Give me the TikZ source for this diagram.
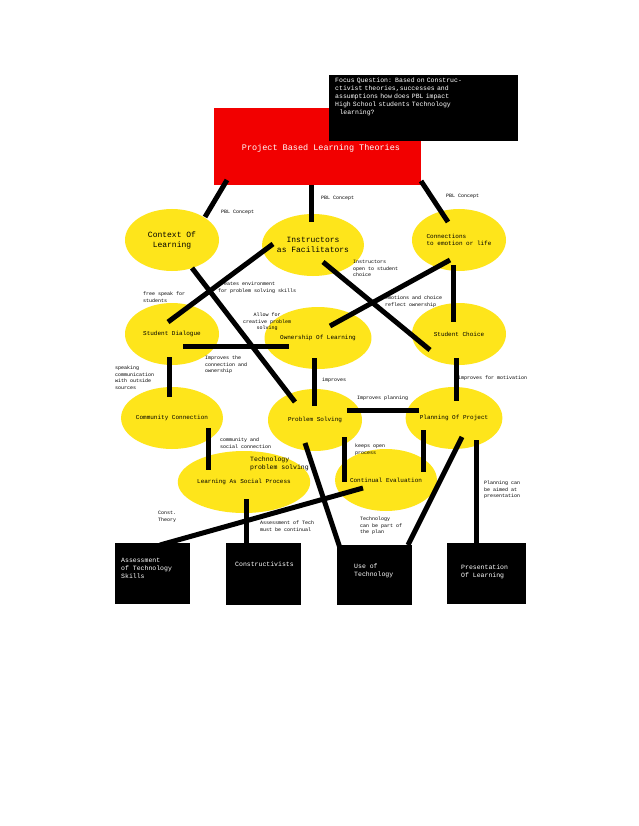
\documentclass[tikz,border=0pt]{standalone}
\usepackage{fontspec}
\setmonofont{Liberation Mono}
\usetikzlibrary{shapes.geometric}
\tikzset{
  bubble/.style={ellipse,fill=yellow!85!orange!90!white,minimum width=94,minimum height=62,inner sep=0pt,align=center,font=\ttfamily\fontsize{6}{7}\selectfont},
  blackbox/.style={fill=black,text=white,anchor=north west,align=left,font=\ttfamily\fontsize{6.5}{8}\selectfont,inner sep=0pt},
  link/.style={line width=5pt},
  note/.style={anchor=north west,align=left,inner sep=0pt,font=\ttfamily\fontsize{5}{6.5}\selectfont}
}
\begin{document}
\begin{tikzpicture}[x=1pt,y=-1pt]
  \useasboundingbox[fill=white] (0,0) rectangle (638,826);
  % top boxes
  \fill[red!95!black] (214,108) rectangle (421,185);
  \node[text=white,font=\ttfamily\fontsize{8.5}{10}\selectfont] (pbl) at (321,148) {Project Based Learning Theories};
  \fill[black] (329,75) rectangle (518,141);
  \node[blackbox,text width=180] (focus) at (335,78) {Focus Question: Based on Construc-\\ctivist theories,successes and\\assumptions how does PBL impact\\High School students Technology\\\ \ learning?};
  % bubbles
  \node[bubble,font=\ttfamily\fontsize{8}{10}\selectfont] (context) at (172,240) {Context Of\\Learning};
  \node[bubble,font=\ttfamily\fontsize{8}{10}\selectfont] (instr) at (313,245) {Instructors\\as Facilitators};
  \node[bubble,align=left] (conn) at (459,240) {Connections\\to emotion or life};
  \node[bubble] (dialog) at (172,334) {Student Dialogue};
  \node[bubble] (own) at (318,338) {Ownership Of Learning};
  \node[bubble] (choice) at (459,334) {Student Choice};
  \node[bubble] (community) at (172,418) {Community Connection};
  \node[bubble] (problem) at (315,420) {Problem Solving};
  \node[bubble] (plan) at (454,418) {Planning Of Project};
  \node[bubble] (social) at (244,482) {Learning As Social Process};
  \node[bubble] (eval) at (386,480) {Continual Evaluation};
  % connectors
  \draw[link] (227,180) -- (205,217);
  \draw[link] (311,185) -- (311,222);
  \draw[link] (421,181) -- (448,222);
  \draw[link] (273,244) -- (168,322);
  \draw[link] (192,268) -- (295,402);
  \draw[link] (323,262) -- (430,350);
  \draw[link] (450,260) -- (330,326);
  \draw[link] (453,265) -- (453,322);
  \draw[link] (183,346) -- (289,346);
  \draw[link] (169,357) -- (169,397);
  \draw[link] (314,358) -- (314,406);
  \draw[link] (456,358) -- (456,401);
  \draw[link] (347,410) -- (419,410);
  \draw[link] (208,428) -- (208,470);
  \draw[link] (344,437) -- (344,482);
  \draw[link] (423,430) -- (423,472);
  \draw[link] (363,488) -- (160,545);
  \draw[link] (246,499) -- (246,543);
  \draw[link] (305,443) -- (340,548);
  \draw[link] (462,437) -- (408,545);
  \draw[link] (476,440) -- (476,543);
  % bottom boxes
  \fill (115,543) rectangle (190,604);
  \node[blackbox] (assess) at (121,558) {Assessment\\of Technology\\Skills};
  \fill (226,543) rectangle (301,605);
  \node[blackbox] (constr) at (235,562) {Constructivists};
  \fill (337,545) rectangle (412,605);
  \node[blackbox] (usetech) at (354,564) {Use of\\Technology};
  \fill (447,543) rectangle (526,604);
  \node[blackbox] (present) at (461,565) {Presentation\\Of Learning};
  % labels
  \node[note] at (221,210) {PBL Concept};
  \node[note] at (321,196) {PBL Concept};
  \node[note] at (446,194) {PBL Concept};
  \node[note] at (353,260) {Instructors\\open to student\\choice};
  \node[note] at (218,282) {creates environment\\for problem solving skills};
  \node[note] at (143,292) {free speak for\\students};
  \node[note,align=center] at (243,313) {Allow for\\creative problem\\solving};
  \node[note] at (385,296) {emotions and choice\\reflect ownership};
  \node[note] at (205,356) {Improves the\\connection and\\ownership};
  \node[note] at (115,366) {speaking\\communication\\with outside\\sources};
  \node[note] at (322,378) {improves};
  \node[note] at (458,376) {improves for motivation};
  \node[note] at (357,396) {Improves planning};
  \node[note] at (220,438) {community and\\social connection};
  \node[note,font=\ttfamily\fontsize{6.5}{7.5}\selectfont] at (250,457) {Technology\\problem solving};
  \node[note] at (355,444) {keeps open\\process};
  \node[note] at (484,481) {Planning can\\be aimed at\\presentation};
  \node[note] at (158,511) {Const.\\Theory};
  \node[note] at (260,521) {Assessment of Tech\\must be continual};
  \node[note] at (360,517) {Technology\\can be part of\\the plan};
\end{tikzpicture}
\end{document}
